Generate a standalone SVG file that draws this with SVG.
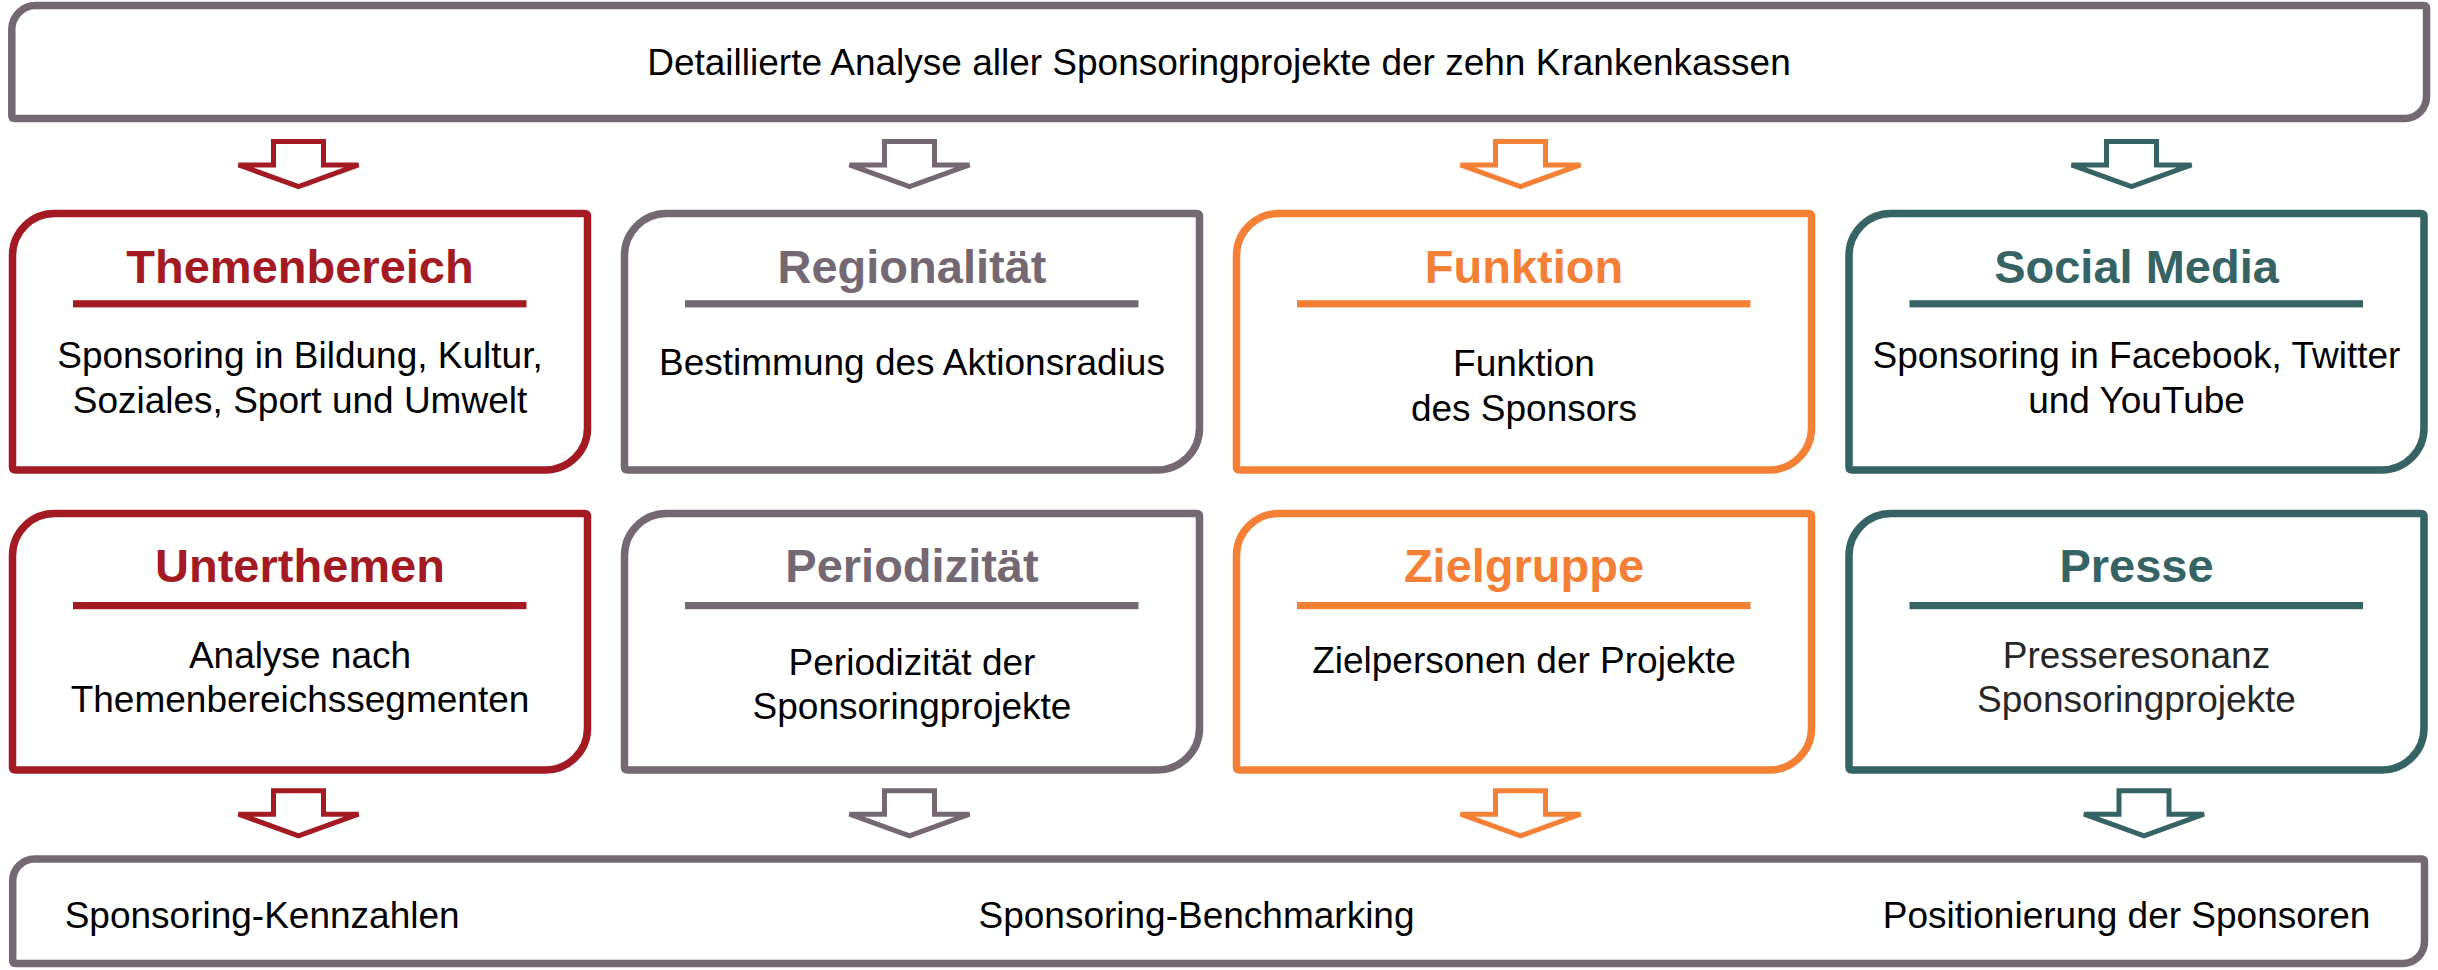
<svg xmlns="http://www.w3.org/2000/svg" xmlns:xlink="http://www.w3.org/1999/xlink" width="2438" height="970" viewBox="0 0 2438 970">
<style>
  text { font-family: "Liberation Sans", Arial, sans-serif; }
  .body { font-size: 37px; fill: #000; text-anchor: middle; }
  .left { font-size: 37px; fill: #000; }
  .hd { font-size: 47px; font-weight: bold; text-anchor: middle; }
  .frame { fill: #fff; stroke-width: 7.5; }
  .arrow { fill: #fff; stroke-width: 5; stroke-linejoin: miter; }
  .red { stroke: #A31A22; }
  .gray { stroke: #746873; }
  .orange { stroke: #F48036; }
  .teal { stroke: #366364; }
  .tred { fill: #A31A22; }
  .tgray { fill: #746873; }
  .torange { fill: #F48036; }
  .tteal { fill: #366364; }
  .ured { fill: #A31A22; }
  .ugray { fill: #746873; }
  .uorange { fill: #F48036; }
  .uteal { fill: #366364; }
</style>
<defs>
  <path id="box" d="M0,42 A42,42 0 0 1 42,0 H572 Q575,0 575,3 V214.5 A42,42 0 0 1 533,256.5 H3 Q0,256.5 0,253.5 Z"/>
  <path id="arr" d="M-25,0 H25 V23.4 H60 L0,45 L-60,23.4 H-25 Z"/>
</defs>

<g id="top-box">
  <path class="frame gray" d="M11.8,29.5 A24,24 0 0 1 35.8,5.5 H2423.5 Q2426.5,5.5 2426.5,8.5 V96.5 A22,22 0 0 1 2404.5,118.5 H14.8 Q11.8,118.5 11.8,115.5 Z"/>
  <text class="body" x="1219" y="75">Detaillierte Analyse aller Sponsoringprojekte der zehn Krankenkassen</text>
</g>

<g id="connectors">
  <use xlink:href="#arr" class="arrow red" x="298.5" y="141.5"/>
  <use xlink:href="#arr" class="arrow gray" x="909.5" y="141.5"/>
  <use xlink:href="#arr" class="arrow orange" x="1520.5" y="141.5"/>
  <use xlink:href="#arr" class="arrow teal" x="2131.5" y="141.5"/>
  <use xlink:href="#arr" class="arrow red" x="298.5" y="790.8"/>
  <use xlink:href="#arr" class="arrow gray" x="909.5" y="790.8"/>
  <use xlink:href="#arr" class="arrow orange" x="1520.5" y="790.8"/>
  <use xlink:href="#arr" class="arrow teal" x="2144" y="790.8"/>
</g>

<g id="node-themenbereich">
  <use xlink:href="#box" class="frame red" stroke-width="7" x="12.5" y="213.5"/>
  <text class="hd tred" x="300" y="282.5">Themenbereich</text>
  <rect class="ured" x="73" y="300.2" width="453.5" height="7.2"/>
  <text class="body" x="300" y="368.3">Sponsoring in Bildung, Kultur,</text>
  <text class="body" x="300" y="413.3">Soziales, Sport und Umwelt</text>
</g>

<g id="node-regionalitaet">
  <use xlink:href="#box" class="frame gray" stroke-width="7" x="624.5" y="213.5"/>
  <text class="hd tgray" x="912" y="282.5">Regionalität</text>
  <rect class="ugray" x="685" y="300.2" width="453.5" height="7.2"/>
  <text class="body" x="912" y="375">Bestimmung des Aktionsradius</text>
</g>

<g id="node-funktion">
  <use xlink:href="#box" class="frame orange" stroke-width="7" x="1236.5" y="213.5"/>
  <text class="hd torange" x="1524" y="282.5">Funktion</text>
  <rect class="uorange" x="1297" y="300.2" width="453.5" height="7.2"/>
  <text class="body" x="1524" y="376">Funktion</text>
  <text class="body" x="1524" y="421">des Sponsors</text>
</g>

<g id="node-social-media">
  <use xlink:href="#box" class="frame teal" stroke-width="7" x="1849" y="213.5"/>
  <text class="hd tteal" x="2136.5" y="282.5">Social Media</text>
  <rect class="uteal" x="1909.5" y="300.2" width="453.5" height="7.2"/>
  <text class="body" x="2136.5" y="368.3">Sponsoring in Facebook, Twitter</text>
  <text class="body" x="2136.5" y="413.3">und YouTube</text>
</g>

<g id="node-unterthemen">
  <use xlink:href="#box" class="frame red" stroke-width="7" x="12.5" y="513.5"/>
  <text class="hd tred" x="300" y="581.7">Unterthemen</text>
  <rect class="ured" x="73" y="602" width="453.5" height="7.2"/>
  <text class="body" x="300" y="667.7">Analyse nach</text>
  <text class="body" x="300" y="711.7">Themenbereichssegmenten</text>
</g>

<g id="node-periodizitaet">
  <use xlink:href="#box" class="frame gray" stroke-width="7" x="624.5" y="513.5"/>
  <text class="hd tgray" x="912" y="581.7">Periodizität</text>
  <rect class="ugray" x="685" y="602" width="453.5" height="7.2"/>
  <text class="body" x="912" y="675">Periodizität der</text>
  <text class="body" x="912" y="718.5">Sponsoringprojekte</text>
</g>

<g id="node-zielgruppe">
  <use xlink:href="#box" class="frame orange" stroke-width="7" x="1236.5" y="513.5"/>
  <text class="hd torange" x="1524" y="581.7">Zielgruppe</text>
  <rect class="uorange" x="1297" y="602" width="453.5" height="7.2"/>
  <text class="body" x="1524" y="673.3">Zielpersonen der Projekte</text>
</g>

<g id="node-presse">
  <use xlink:href="#box" class="frame teal" stroke-width="7" x="1849" y="513.5"/>
  <text class="hd tteal" x="2136.5" y="581.7">Presse</text>
  <rect class="uteal" x="1909.5" y="602" width="453.5" height="7.2"/>
  <text class="body" x="2136.5" y="668.3" style="fill:#262626">Presseresonanz</text>
  <text class="body" x="2136.5" y="711.7" style="fill:#262626">Sponsoringprojekte</text>
</g>

<g id="bottom-box">
  <path class="frame gray" d="M12.7,881 A22,22 0 0 1 34.7,859 H2421.5 Q2424.5,859 2424.5,862 V941.5 A22,22 0 0 1 2402.5,963.5 H15.7 Q12.7,963.5 12.7,960.5 Z"/>
  <text class="left" x="64.7" y="928">Sponsoring-Kennzahlen</text>
  <text class="left" x="978.5" y="928">Sponsoring-Benchmarking</text>
  <text class="left" x="1882.8" y="928">Positionierung der Sponsoren</text>
</g>
</svg>
